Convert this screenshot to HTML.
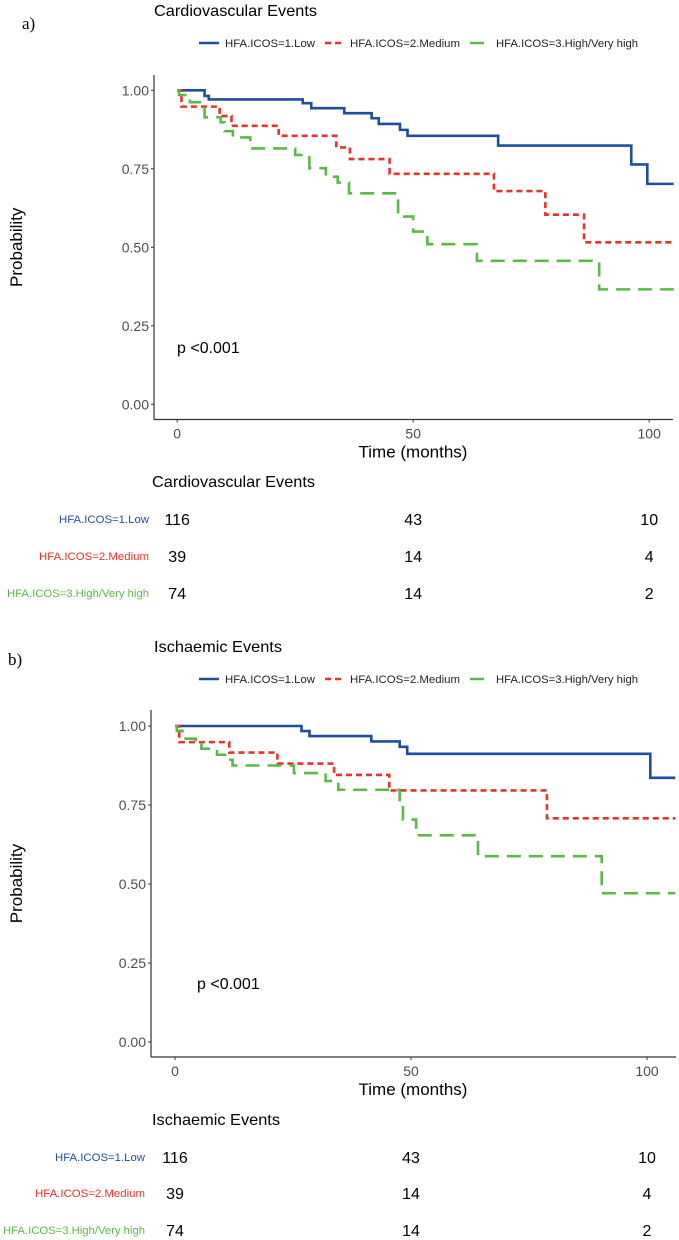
<!DOCTYPE html>
<html><head><meta charset="utf-8"><style>
body{margin:0;background:#fff;}
svg{display:block;font-family:"Liberation Sans",sans-serif;}
</style></head><body>
<svg id="fig" width="679" height="1240" viewBox="0 0 679 1240" xmlns="http://www.w3.org/2000/svg"></svg>
<script>
// Panel a: Cardiovascular events
const cvLowT = [0, 5.8, 6.7, 26.6, 28.4, 35.4, 41.2, 42.7, 47.2, 48.8, 68, 96.2, 99.6];
const cvLowS = [1, 0.982, 0.971, 0.959, 0.943, 0.927, 0.911, 0.893, 0.874, 0.855, 0.824, 0.764, 0.702];
const cvMedT = [0, 0.9, 9.0, 11.5, 21.5, 33.7, 36.6, 45, 67.1, 78, 86.2];
const cvMedS = [1, 0.948, 0.918, 0.887, 0.855, 0.818, 0.781, 0.734, 0.679, 0.604, 0.516];
const cvHighT = [0, 0.4, 2.7, 5.8, 9.2, 10, 11.8, 15.5, 25, 28, 31.5, 34, 36.4, 46.8, 50, 53, 63.5, 89.4];
const cvHighS = [1, 0.985, 0.962, 0.914, 0.898, 0.87, 0.85, 0.815, 0.794, 0.752, 0.725, 0.706, 0.672, 0.598, 0.55, 0.51, 0.457, 0.366];
// Panel b: Ischaemic events
const isLowT = [0, 26.8, 28.5, 41.6, 47.6, 49.2, 100.7];
const isLowS = [1, 0.984, 0.968, 0.951, 0.934, 0.912, 0.836];
const isMedT = [0, 0.9, 11.5, 21.7, 33.7, 45.4, 78.8];
const isMedS = [1, 0.949, 0.916, 0.881, 0.845, 0.796, 0.708];
const isHighT = [0, 0.4, 1.6, 4.4, 5.6, 8.9, 11.3, 12.2, 25.2, 31.9, 34.6, 47.6, 48.3, 51.1, 64.2, 90.4];
const isHighS = [1, 0.985, 0.96, 0.944, 0.928, 0.909, 0.893, 0.875, 0.851, 0.826, 0.798, 0.748, 0.704, 0.654, 0.588, 0.471];
// Risk tables
const riskTimes = [0, 50, 100];
const cvRisk = [[116, 43, 10], [39, 14, 4], [74, 14, 2]];
const isRisk = [[116, 43, 10], [39, 14, 4], [74, 14, 2]];
const yTicks = [0, 0.25, 0.5, 0.75, 1];
const yTickLabels = ["0.00", "0.25", "0.50", "0.75", "1.00"];
const xTicks = [0, 50, 100];
const groups = ["HFA.ICOS=1.Low", "HFA.ICOS=2.Medium", "HFA.ICOS=3.High/Very high"];

const NS = "http://www.w3.org/2000/svg";
const svg = document.getElementById("fig");
const colors = ["#1f4e9a", "#e8312a", "#5cb848"];
const dashes = ["", "6,4", "14,8"];

function el(tag, attrs, parent, text) {
  const e = document.createElementNS(NS, tag);
  for (const k in attrs) e.setAttribute(k, attrs[k]);
  if (text !== undefined) e.textContent = text;
  (parent || svg).appendChild(e);
  return e;
}

function panel(cfg) {
  const g = el("g", {});
  
  
  const xs = t => cfg.x0 + 4.72 * t;
  const ys = p => cfg.y0 - cfg.ys * p;
  // letter
  const lt = el("text", {x: cfg.letterX, y: cfg.top + 29, "font-family": "Liberation Serif,serif", "font-size": 17, fill: "#000"}, g, cfg.letter);
  
  
  const tt = el("text", {x: 154, y: cfg.top + 16, "font-size": 16, fill: "#000", textLength: cfg.titleW, lengthAdjust: "spacingAndGlyphs"}, g, cfg.title);
  
  
  // legend
  const lg = el("g", {}, g);
  
  
  const lx = [[199, 225, 90], [325, 350, 110], [470, 496, 142]];
  for (let i = 0; i < 3; i++) {
    const ly = cfg.top + 43;
    const ent = el("g", {}, lg);
    
    
    el("line", {x1: lx[i][0], x2: lx[i][0] + 20, y1: ly, y2: ly, stroke: colors[i], "stroke-width": 2.5, "stroke-dasharray": dashes[i]}, ent);
    el("text", {x: lx[i][1], y: ly + 4, "font-size": 11, fill: "#222", textLength: lx[i][2], lengthAdjust: "spacingAndGlyphs"}, ent, groups[i]);
  }
  // axes
  const ax = el("g", {}, g);
  
  
  el("line", {x1: cfg.axL, x2: cfg.axL, y1: cfg.axTop, y2: cfg.axB, stroke: "#333", "stroke-width": 1.2}, ax);
  el("line", {x1: cfg.axL, x2: cfg.axR, y1: cfg.axB, y2: cfg.axB, stroke: "#333", "stroke-width": 1.2}, ax);
  yTicks.forEach((v, i) => {
    el("line", {x1: cfg.axL - 3, x2: cfg.axL, y1: ys(v), y2: ys(v), stroke: "#333"}, ax);
    const t = el("text", {x: cfg.axL - 5, y: ys(v) + 5, "font-size": 14, fill: "#4d4d4d", "text-anchor": "end"}, ax, yTickLabels[i]);
    
    
  });
  xTicks.forEach(v => {
    el("line", {x1: xs(v), x2: xs(v), y1: cfg.axB, y2: cfg.axB + 3, stroke: "#333"}, ax);
    const t = el("text", {x: xs(v), y: cfg.axB + 19, "font-size": 14, fill: "#4d4d4d", "text-anchor": "middle"}, ax, String(v));
    
    
  });
  const xt = el("text", {x: 413, y: cfg.axB + 38, "font-size": 17, fill: "#000", "text-anchor": "middle"}, g, "Time (months)");
  
  
  const yc = (cfg.axTop + cfg.axB) / 2;
  const yt = el("text", {x: 22, y: yc, "font-size": 17, fill: "#000", "text-anchor": "middle", transform: `rotate(-90 22 ${yc})`}, g, "Probability");
  
  
  // curves
  cfg.series.forEach((s, i) => {
    const [T, S] = s;
    let d = `M${xs(T[0])},${ys(S[0])}`;
    for (let k = 1; k < T.length; k++) d += `H${xs(T[k])}V${ys(S[k])}`;
    d += `H${xs(cfg.tEnd)}`;
    const p = el("path", {d, fill: "none", stroke: colors[i], "stroke-width": 2.6, "stroke-dasharray": dashes[i]}, g);
    
    
  });
  const pv = el("text", {x: cfg.pX, y: cfg.pY, "font-size": 16, fill: "#000"}, g, "p <0.001");
  
  
  // risk table
  const rt = el("g", {}, g);
  
  
  const rtt = el("text", {x: 152, y: cfg.riskTop + 6, "font-size": 16, fill: "#000", textLength: cfg.titleW, lengthAdjust: "spacingAndGlyphs"}, rt, cfg.title);
  
  
  const lw = [90, 110, 142];
  cfg.risk.forEach((row, i) => {
    const y = cfg.riskRows[i];
    const lab = el("text", {x: cfg.labR, y: y + 4, "font-size": 11, fill: colors[i], "text-anchor": "end", textLength: lw[i], lengthAdjust: "spacingAndGlyphs"}, rt, groups[i]);
    
    
    row.forEach((n, j) => {
      const c = el("text", {x: xs(riskTimes[j]), y: y + 6, "font-size": 16, fill: "#000", "text-anchor": "middle"}, rt, String(n));
      
      
    });
  });
}

panel({name: "cardiovascular", letter: "a)", letterX: 22, title: "Cardiovascular Events", titleW: 163, top: 0,
  x0: 177.2, y0: 404.3, ys: 314, axL: 154, axR: 673, axTop: 75, axB: 419.5, tEnd: 105.2,
  pX: 177, pY: 353, riskTop: 481, riskRows: [519, 556, 593], labR: 149,
  series: [[cvLowT, cvLowS], [cvMedT, cvMedS], [cvHighT, cvHighS]], risk: cvRisk});
panel({name: "ischaemic", letter: "b)", letterX: 8, title: "Ischaemic Events", titleW: 128, top: 636,
  x0: 175, y0: 1042, ys: 316, axL: 151, axR: 676, axTop: 710, axB: 1057, tEnd: 106,
  pX: 197, pY: 989, riskTop: 1119, riskRows: [1157, 1193, 1230], labR: 145,
  series: [[isLowT, isLowS], [isMedT, isMedS], [isHighT, isHighS]], risk: isRisk});
</script>
</body></html>
